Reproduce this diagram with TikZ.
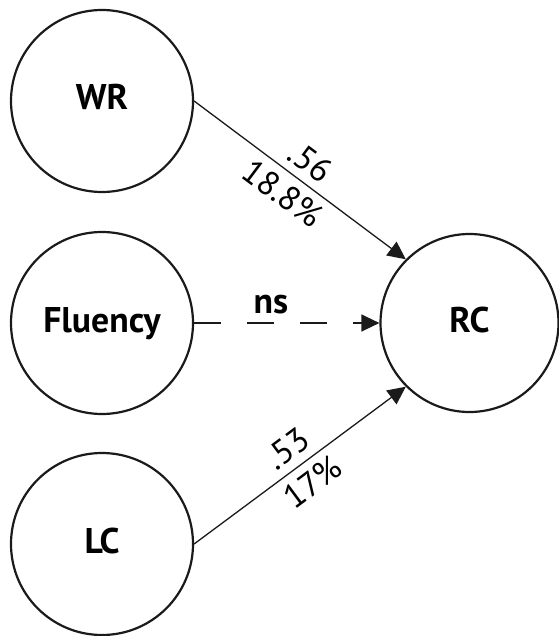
\documentclass[tikz,border=0pt]{standalone}
\usepackage{fontspec}
\setmainfont{PT Sans}
\usetikzlibrary{arrows.meta}
\definecolor{ink}{HTML}{1A1A1A}
\tikzset{
  construct/.style={circle, draw=ink, line width=2.2pt, minimum size=182pt, inner sep=0pt,
    font=\fontsize{35.7}{40}\selectfont\bfseries, text height=25pt, text depth=7pt},
  path line/.style={draw=ink, line width=1.3pt, -{Triangle[length=18pt, width=17pt]}},
  weight/.style={sloped, font=\fontsize{34}{38}\selectfont, inner xsep=1pt, inner ysep=8pt},
}
\begin{document}
\begin{tikzpicture}[x=1pt, y=1pt]
\useasboundingbox (0,0) rectangle (558,-636);
% predictors and outcome
\node[construct] (wr) at (102,-101) {WR};
\node[construct] (flu) at (102,-323) {Fluency};
\node[construct] (lc) at (102,-544) {LC};
\node[construct, minimum size=178pt] (rc) at (469.5,-323) {RC};
% paths
\draw[path line] (wr.east) -- node[weight, above, pos=.49] {.56} node[weight, below, pos=.477] {18.8\%} (rc.135);
\draw[path line, dash pattern=on 27pt off 26pt] (flu.east) -- node[above, pos=.415, inner sep=0pt, yshift=8pt, font=\fontsize{35.7}{40}\selectfont\bfseries] {ns} (rc.west);
\draw[path line] (lc.east) -- node[weight, above, pos=.5] {.53} node[weight, below, pos=.5] {17\%} (rc.225);
\end{tikzpicture}
\end{document}
